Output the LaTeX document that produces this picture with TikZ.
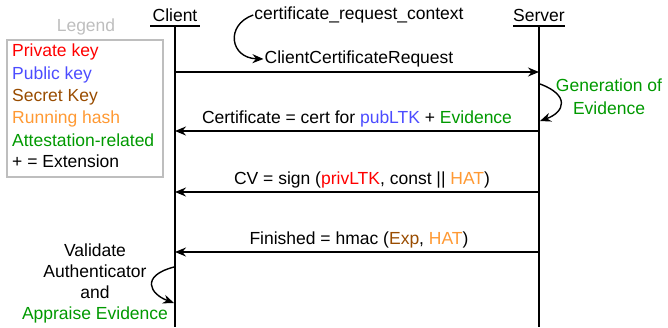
\documentclass[tikz,border=0pt]{standalone}
\usepackage{fontspec}
\setmainfont{Liberation Sans}
\usetikzlibrary{arrows.meta, positioning, calc}
\definecolor{privred}{RGB}{255,0,0}
\definecolor{pubblue}{RGB}{76,76,255}
\definecolor{secbrown}{RGB}{153,76,0}
\definecolor{hashorange}{RGB}{255,153,51}
\definecolor{attgreen}{RGB}{0,153,0}
\definecolor{legendgray}{RGB}{190,190,190}
\tikzset{
    party/.style={inner sep=1pt, font=\fontsize{17.5}{20}\selectfont},
    msglabel/.style={inner sep=1pt, font=\fontsize{17.5}{20}\selectfont},
    message/.style={line width=1.4pt, -{Stealth[length=11pt, width=9pt]}},
    lifeline/.style={line width=1.4pt},
    curvearrow/.style={line width=1.4pt, -{Stealth[length=11pt, width=9pt]}},
    legendtext/.style={inner sep=0pt, anchor=west, font=\fontsize{17.5}{20}\selectfont}
}

\begin{document}
\begin{tikzpicture}[x=1pt, y=-1pt]
        \useasboundingbox (0,0) rectangle (668,327);
        % parties and lifelines
        \node[party] (client) at (175,15) {Client};
        \node[party] (server) at (539,15) {Server};
        \draw[lifeline] (150,26) -- (200,26);
        \draw[lifeline] (513,26) -- (565,26);
        \coordinate (ctop) at (175,26);
        \coordinate (cbot) at (175,327);
        \coordinate (stop) at (539,26);
        \coordinate (sbot) at (539,327);
        \draw[lifeline] (ctop) -- (cbot);
        \draw[lifeline] (stop) -- (sbot);
        % messages
        \coordinate (c1) at (175,72);  \coordinate (s1) at (539,72);
        \coordinate (c2) at (175,131); \coordinate (s2) at (539,131);
        \coordinate (c3) at (175,192); \coordinate (s3) at (539,192);
        \coordinate (c4) at (175,252); \coordinate (s4) at (539,252);
        \draw[message] (c1) -- (s1);
        \draw[message] (s2) -- (c2);
        \draw[message] (s3) -- (c3);
        \draw[message] (s4) -- (c4);
        \node[msglabel] (ccr) at (359,59) {ClientCertificateRequest};
        \node[msglabel] (crc) at (359,15) {certificate\_request\_context};
        \node[msglabel] (cert) at (357,119) {Certificate = cert for \textcolor{pubblue}{pubLTK} + \textcolor{attgreen}{Evidence}};
        \node[msglabel] (cv) at (362,180) {CV = sign (\textcolor{privred}{privLTK}, const || \textcolor{hashorange}{HAT})};
        \node[msglabel] (fin) at (359,240) {Finished = hmac (\textcolor{secbrown}{Exp}, \textcolor{hashorange}{HAT})};
        % local steps
        \node[msglabel, align=center, text=attgreen] (gen) at (609,97) {Generation of\\[3pt]Evidence};
        \node[msglabel, align=center] (val) at (95,283) {Validate\\[1pt]Authenticator\\[1pt]and\\[1pt]\textcolor{attgreen}{Appraise Evidence}};
        \draw[curvearrow] (crc.west) .. controls (225,25) and (230,58) .. (ccr.west);
        \coordinate (g1) at (540,84);
        \coordinate (g2) at (540,121);
        \draw[curvearrow] (g1) .. controls (570,95) and (565,112) .. (g2);
        \coordinate (v1) at (174,267);
        \coordinate (v2) at (174,303);
        \draw[curvearrow] (v1) .. controls (140,276) and (150,294) .. (v2);
        % legend
        \node[text=legendgray, font=\fontsize{17.5}{20}\selectfont] (legend) at (86,27) {Legend};
        \draw[legendgray, line width=1.4pt] (7,40) rectangle (163,177);
        \node[legendtext, text=privred] (lpriv) at (12,52) {Private key};
        \node[legendtext, text=pubblue] (lpub) at (12,75) {Public key};
        \node[legendtext, text=secbrown] (lsec) at (12,97) {Secret Key};
        \node[legendtext, text=hashorange] (lhash) at (12,119) {Running hash};
        \node[legendtext, text=attgreen] (latt) at (12,140) {Attestation-related};
        \node[legendtext] (lext) at (12,161) {+ = Extension};
    \end{tikzpicture}
\end{document}
